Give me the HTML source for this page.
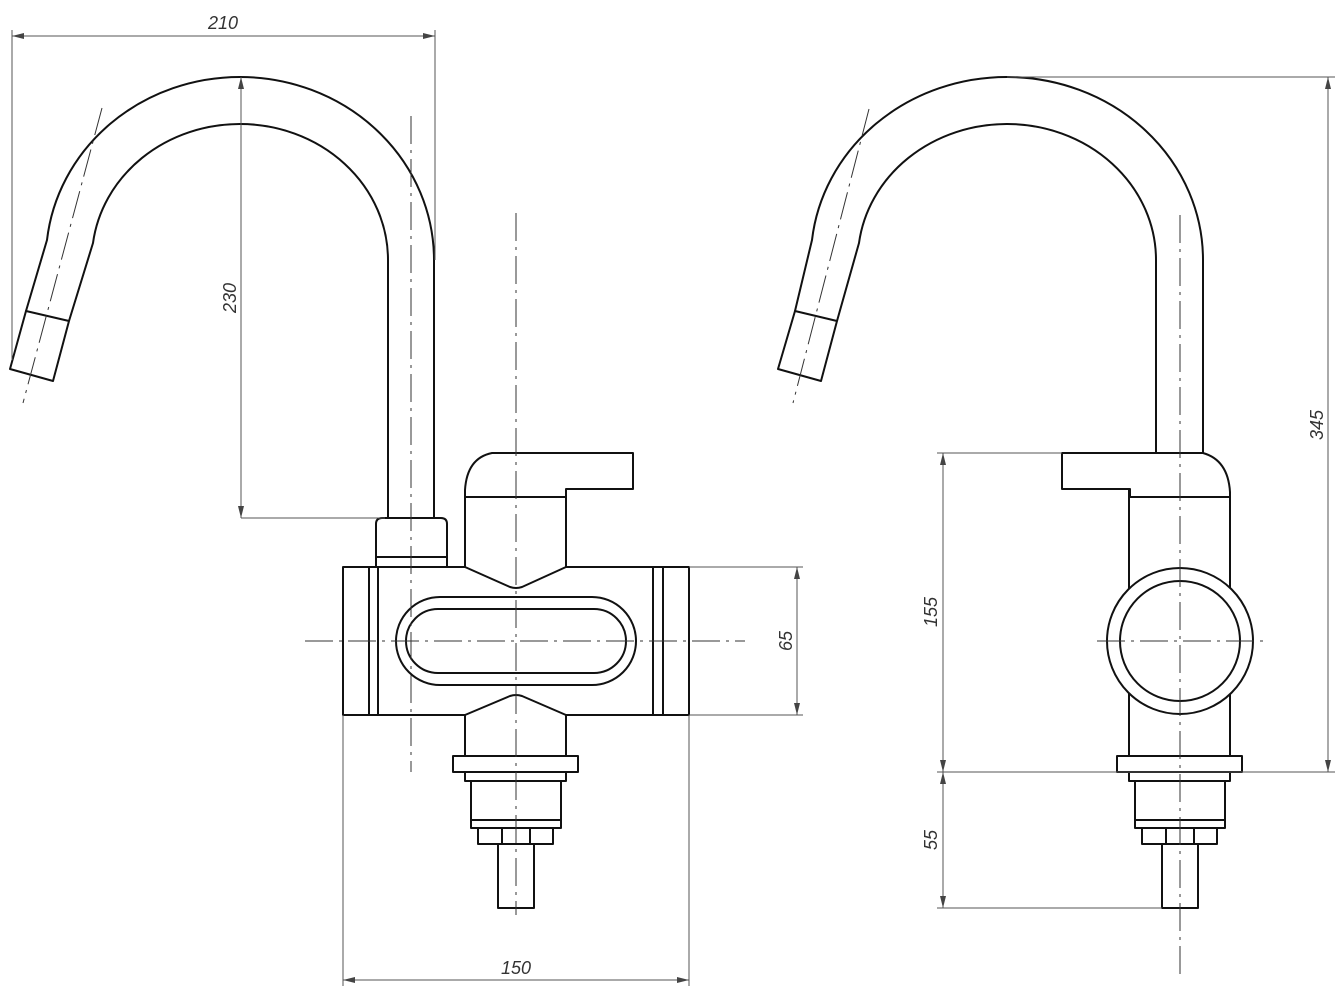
<!DOCTYPE html>
<html><head><meta charset="utf-8"><style>
html,body{margin:0;padding:0;background:#fff}
svg{display:block}
text{font-family:"Liberation Sans",sans-serif;font-style:italic;font-size:18px;fill:#333}
</style></head><body>
<svg width="1338" height="994" viewBox="0 0 1338 994" xmlns="http://www.w3.org/2000/svg">
<defs>
<marker id="a" viewBox="0 0 12 6" refX="12" refY="3" markerWidth="12" markerHeight="6" orient="auto-start-reverse" markerUnits="userSpaceOnUse"><path d="M0,0 L12,3 L0,6 z" fill="#444"/></marker>
</defs>
<g fill="none" stroke="#111" stroke-width="2" stroke-linejoin="round">
<!-- LEFT spout -->
<path d="M26,311 L47,240 A194,183 0 0 1 240,77 A194,183 0 0 1 434,260 L434,518"/>
<path d="M69,321 L93,243 A148,136 0 0 1 240,124 A148,136 0 0 1 388,260 L388,518"/>
<path d="M26,311 L10,369 L53,381 L69,321 Z"/>
<!-- nut -->
<path d="M376,567 L376,524 Q376,518 382,518 L441,518 Q447,518 447,524 L447,567"/>
<line x1="376" y1="557" x2="447" y2="557"/>
<!-- body -->
<path d="M465,567 L343,567 L343,715 L465,715 M566,567 L689,567 L689,715 L566,715"/>
<path d="M369,567 V715 M378,567 V715 M653,567 V715 M663,567 V715"/>
<path d="M465,567 L510,587 Q516,589 522,587 L566,567"/>
<path d="M465,715 L510,696 Q516,694 522,696 L566,715"/>
<!-- handle -->
<path d="M465,567 L465,490 Q467,458 492,453 L633,453 L633,489 L566,489 L566,567"/>
<line x1="465" y1="497" x2="566" y2="497"/>
<!-- oval -->
<rect x="396" y="597" width="240" height="88" rx="44"/>
<rect x="406" y="609" width="220" height="64" rx="32"/>
<!-- lower -->
<path d="M465,715 V756 M566,715 V756"/>
<rect x="453" y="756" width="125" height="16"/>
<rect x="465" y="772" width="101" height="9"/>
<rect x="471" y="781" width="90" height="47"/>
<line x1="471" y1="820" x2="561" y2="820"/>
<rect x="478" y="828" width="75" height="16"/>
<path d="M502,828 V844 M530,828 V844"/>
<rect x="498" y="844" width="36" height="64"/>

<!-- RIGHT spout -->
<path d="M795,311 L812,240 A196,183 0 0 1 1007,77 A196,183 0 0 1 1203,260 L1203,453"/>
<path d="M837,321 L859,243 A149,136 0 0 1 1007,124 A149,136 0 0 1 1156,260 L1156,453"/>
<path d="M795,311 L778,369 L821,381 L837,321 Z"/>
<!-- handle right -->
<path d="M1130,497 L1130,489 L1062,489 L1062,453 L1203,453 Q1228,460 1230,492 L1230,756"/>
<line x1="1130" y1="497" x2="1230" y2="497"/>
<path d="M1129,489 V756"/>
<circle cx="1180" cy="641" r="73" fill="#fff"/>
<circle cx="1180" cy="641" r="60"/>
<rect x="1117" y="756" width="125" height="16"/>
<rect x="1129" y="772" width="101" height="9"/>
<rect x="1135" y="781" width="90" height="47"/>
<line x1="1135" y1="820" x2="1225" y2="820"/>
<rect x="1142" y="828" width="75" height="16"/>
<path d="M1166,828 V844 M1194,828 V844"/>
<rect x="1162" y="844" width="36" height="64"/>
</g>
<!-- centerlines -->
<g stroke="#333" stroke-width="1" stroke-dasharray="28,6,3,6" fill="none">
<line x1="102" y1="108" x2="23" y2="403"/>
<line x1="411" y1="116" x2="411" y2="772"/>
<line x1="516" y1="213" x2="516" y2="915"/>
<line x1="305" y1="641" x2="745" y2="641"/>
<line x1="869" y1="109" x2="793" y2="403"/>
<line x1="1180" y1="215" x2="1180" y2="975"/>
<line x1="1097" y1="641" x2="1265" y2="641"/>
</g>
<!-- dimensions -->
<g stroke="#555" stroke-width="1" fill="none">
<line x1="12" y1="30" x2="12" y2="360"/>
<line x1="435" y1="30" x2="435" y2="260"/>
<line x1="12" y1="36" x2="435" y2="36" marker-start="url(#a)" marker-end="url(#a)"/>
<line x1="241" y1="77" x2="241" y2="518" marker-start="url(#a)" marker-end="url(#a)"/>
<line x1="241" y1="518" x2="385" y2="518"/>
<line x1="689" y1="567" x2="803" y2="567"/>
<line x1="689" y1="715" x2="803" y2="715"/>
<line x1="797" y1="567" x2="797" y2="715" marker-start="url(#a)" marker-end="url(#a)"/>
<line x1="343" y1="715" x2="343" y2="986"/>
<line x1="689" y1="715" x2="689" y2="986"/>
<line x1="343" y1="980" x2="689" y2="980" marker-start="url(#a)" marker-end="url(#a)"/>
<line x1="1007" y1="77" x2="1335" y2="77"/>
<line x1="937" y1="772" x2="1335" y2="772"/>
<line x1="1328" y1="77" x2="1328" y2="772" marker-start="url(#a)" marker-end="url(#a)"/>
<line x1="937" y1="453" x2="1062" y2="453"/>
<line x1="943" y1="453" x2="943" y2="772" marker-start="url(#a)" marker-end="url(#a)"/>
<line x1="943" y1="772" x2="943" y2="908" marker-start="url(#a)" marker-end="url(#a)"/>
<line x1="937" y1="908" x2="1162" y2="908"/>
</g>
<text x="223" y="29" text-anchor="middle">210</text>
<text transform="translate(236,298) rotate(-90)" text-anchor="middle">230</text>
<text transform="translate(792,641) rotate(-90)" text-anchor="middle">65</text>
<text x="516" y="974" text-anchor="middle">150</text>
<text transform="translate(1323,425) rotate(-90)" text-anchor="middle">345</text>
<text transform="translate(937,612) rotate(-90)" text-anchor="middle">155</text>
<text transform="translate(937,840) rotate(-90)" text-anchor="middle">55</text>
</svg>
</body></html>
